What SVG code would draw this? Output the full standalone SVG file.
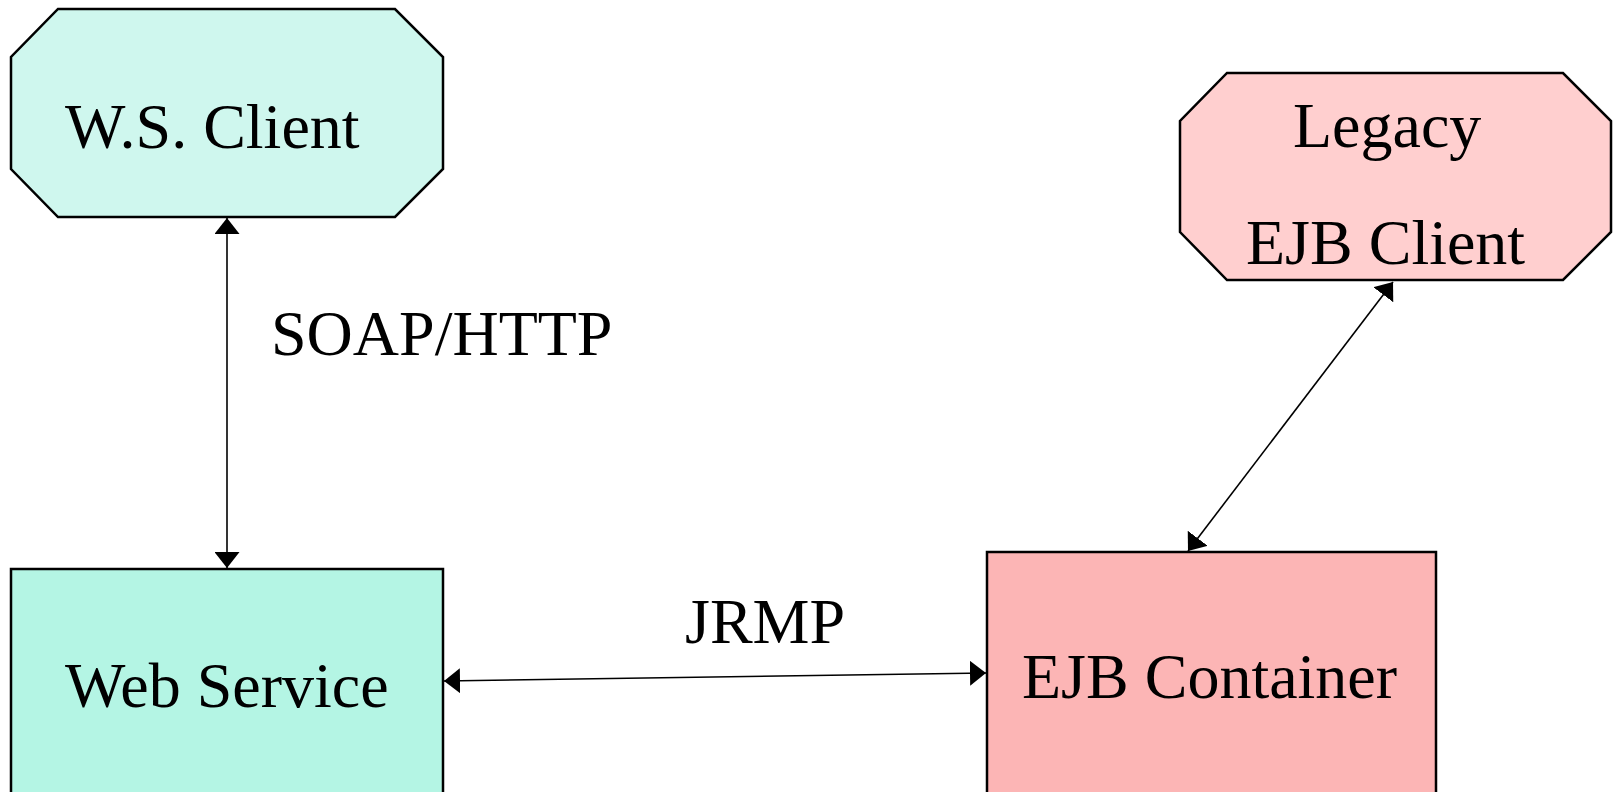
<svg xmlns="http://www.w3.org/2000/svg" width="1613" height="792" viewBox="0 0 1613 792">
<style>
.node{stroke:#000;stroke-width:2.5}
.lbl{font-family:"Liberation Serif","Times New Roman",serif;font-size:64px;fill:#000}
.conn{stroke:#000;stroke-width:1.6;fill:none;marker-start:url(#ah);marker-end:url(#ah)}
</style>
<defs>
<marker id="ah" markerUnits="userSpaceOnUse" markerWidth="16" markerHeight="25" refX="16" refY="12.5" orient="auto-start-reverse" viewBox="0 0 16 25">
<path d="M0,0 L16,12.5 L0,25 z" fill="#000"/>
</marker>
</defs>
<rect width="1613" height="792" fill="#fff"/>
<g id="connectors">
<line class="conn" x1="227" y1="218" x2="227" y2="568"/>
<line class="conn" x1="444" y1="681" x2="986" y2="673"/>
<line class="conn" x1="1393" y1="282" x2="1188" y2="551"/>
</g>
<g id="ws-client">
<polygon class="node" fill="#CFF7EE" points="58,9 395,9 443,57 443,169 395,217 58,217 11,169 11,57"/>
<text class="lbl" x="65" y="148">W.S. Client</text>
</g>
<g id="legacy-client">
<polygon class="node" fill="#FFCFCF" points="1227,73 1563,73 1611,121 1611,232 1563,280 1227,280 1180,232 1180,121"/>
<text class="lbl" x="1293" y="147">Legacy</text>
<text class="lbl" x="1246" y="264">EJB Client</text>
</g>
<g id="web-service">
<rect class="node" fill="#B4F5E4" x="11" y="569" width="432" height="240"/>
<text class="lbl" x="65" y="707">Web Service</text>
</g>
<g id="ejb-container">
<rect class="node" fill="#FCB5B5" x="987" y="552" width="449" height="260"/>
<text class="lbl" x="1022" y="698">EJB Container</text>
</g>
<g id="labels">
<text class="lbl" x="271" y="355">SOAP/HTTP</text>
<text class="lbl" x="685" y="643">JRMP</text>
</g>
</svg>
